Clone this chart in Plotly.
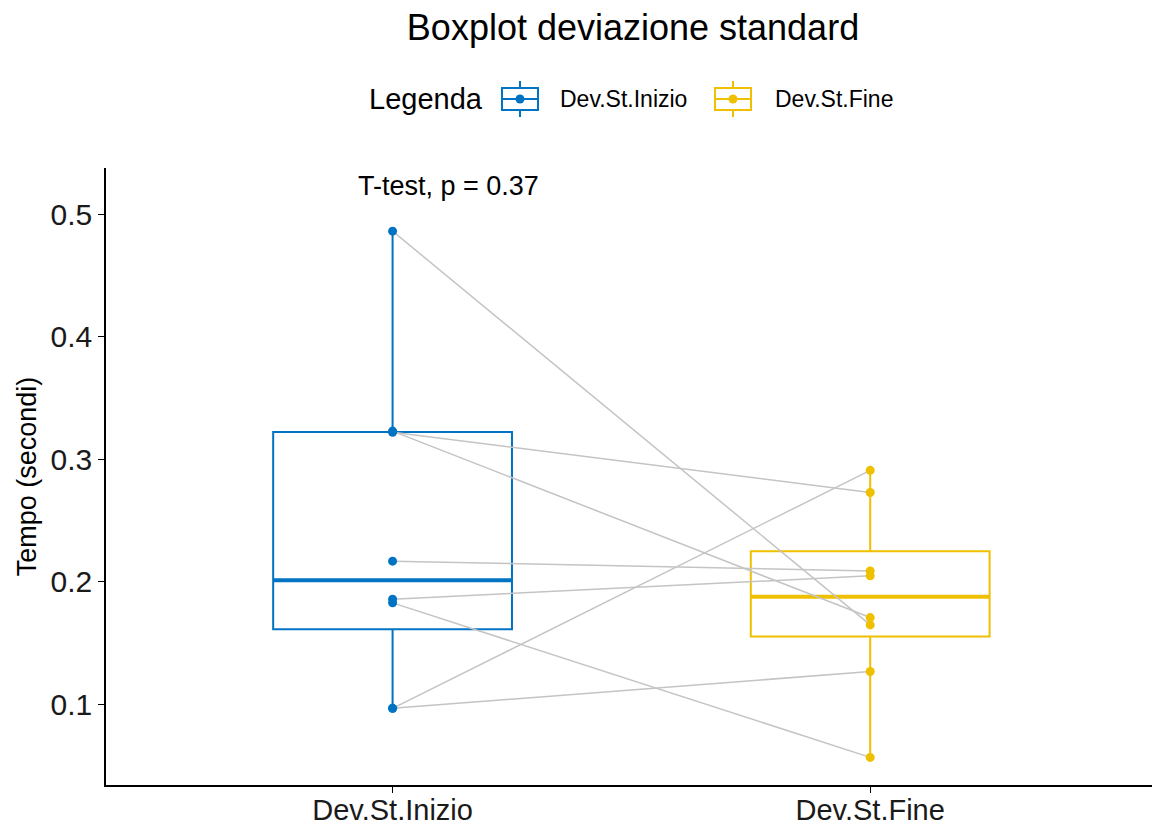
import numpy as np
import plotly.graph_objects as go

# Paired standard deviations (seconds), one entry per subject
groups = ["Dev.St.Inizio", "Dev.St.Fine"]
dev_inizio = [0.486, 0.322, 0.323, 0.217, 0.186, 0.183, 0.097, 0.097]
dev_fine = [0.165, 0.273, 0.171, 0.209, 0.205, 0.057, 0.291, 0.127]
colors = ["#0073C2", "#EFC000"]
p_label = "T-test, p = 0.37"
y_ticks = [0.1, 0.2, 0.3, 0.4, 0.5]

font_family = "Liberation Sans, Arial, sans-serif"
series = [dev_inizio, dev_fine]
box_half = 0.25

W, H = 1152, 827
M_L, M_R, M_T, M_B = 106, 0, 168, 42
PW, PH = W - M_L - M_R, H - M_T - M_B


def px(x):
    """pixel column -> paper x"""
    return (x - M_L) / PW


def py(y):
    """pixel row -> paper y"""
    return (H - M_B - y) / PH


fig = go.Figure()

# Boxes (type-7 quartiles, whiskers to the extremes)
for i, (name, vals, col) in enumerate(zip(groups, series, colors)):
    v = np.array(vals)
    q1, med, q3 = np.percentile(v, [25, 50, 75])
    fig.add_trace(go.Box(
        x=[i], q1=[q1], median=[med], q3=[q3],
        lowerfence=[v.min()], upperfence=[v.max()],
        name=name, width=2 * box_half, whiskerwidth=0,
        line=dict(color=col, width=2), fillcolor="rgba(255,255,255,0)",
        boxpoints=False, showlegend=False,
    ))
    # thicker median bar
    fig.add_trace(go.Scatter(
        x=[i - box_half, i + box_half], y=[med, med], mode="lines",
        line=dict(color=col, width=4), showlegend=False, hoverinfo="skip",
    ))

# Paired lines between the two measurements
for a, b in zip(dev_inizio, dev_fine):
    fig.add_trace(go.Scatter(
        x=[0, 1], y=[a, b], mode="lines",
        line=dict(color="#C4C4C4", width=1.5), showlegend=False, hoverinfo="skip",
    ))

# Individual points
for i, (vals, col) in enumerate(zip(series, colors)):
    fig.add_trace(go.Scatter(
        x=[i] * len(vals), y=vals, mode="markers",
        marker=dict(color=col, size=9), showlegend=False,
    ))

fig.add_annotation(
    x=-0.077, y=0.5228, xref="x", yref="y", text=p_label, showarrow=False,
    xanchor="left", yanchor="middle",
    font=dict(family=font_family, size=27, color="black"),
)

# Legend: title, box-style keys and labels
shapes = []
annotations = [dict(
    x=px(367), y=py(99), xref="paper", yref="paper", text="Legenda",
    showarrow=False, xanchor="left", yanchor="middle",
    font=dict(family=font_family, size=29, color="black"),
)]
key_centers = [520, 733]
label_left = [558, 773]
for cx, lx, name, col in zip(key_centers, label_left, groups, colors):
    ln = dict(color=col, width=2)
    shapes += [
        dict(type="rect", xref="paper", yref="paper",
             x0=px(cx - 18), x1=px(cx + 18), y0=py(110), y1=py(88), line=ln),
        dict(type="line", xref="paper", yref="paper",
             x0=px(cx - 18), x1=px(cx + 18), y0=py(99), y1=py(99), line=ln),
        dict(type="line", xref="paper", yref="paper",
             x0=px(cx), x1=px(cx), y0=py(88), y1=py(81), line=ln),
        dict(type="line", xref="paper", yref="paper",
             x0=px(cx), x1=px(cx), y0=py(110), y1=py(117), line=ln),
        dict(type="circle", xref="paper", yref="paper",
             x0=px(cx - 4.5), x1=px(cx + 4.5), y0=py(103.5), y1=py(94.5),
             fillcolor=col, line=dict(color=col, width=0)),
    ]
    annotations.append(dict(
        x=px(lx), y=py(99), xref="paper", yref="paper", text=name,
        showarrow=False, xanchor="left", yanchor="middle",
        font=dict(family=font_family, size=23, color="black"),
    ))

fig.update_layout(
    width=W, height=H,
    margin=dict(l=M_L, r=M_R, t=M_T, b=M_B),
    paper_bgcolor="white", plot_bgcolor="white",
    font=dict(family=font_family, color="black"),
    title=dict(text="Boxplot deviazione standard", x=633 / W, xanchor="center",
               y=1 - 27 / H, yanchor="middle",
               font=dict(size=36, color="black")),
    showlegend=False,
    shapes=shapes,
    annotations=list(fig.layout.annotations) + annotations,
)
fig.update_xaxes(
    range=[-0.6, 1.59], tickvals=[0, 1], ticktext=groups, automargin=False,
    showline=True, linecolor="black", linewidth=1.5,
    ticks="outside", ticklen=6, tickcolor="black", tickwidth=1.2,
    ticklabelstandoff=-8,
    tickfont=dict(size=29, color="#1a1a1a"), showgrid=False, zeroline=False,
)
fig.update_yaxes(
    range=[0.0345, 0.5375], tickvals=y_ticks, ticktext=[f"{t:.1f}" for t in y_ticks],
    automargin=False,
    showline=True, linecolor="black", linewidth=1.5,
    ticks="outside", ticklen=6, tickcolor="black", tickwidth=1.2,
    tickfont=dict(size=30, color="#1a1a1a"), showgrid=False, zeroline=False,
    title=dict(text="Tempo (secondi)", font=dict(size=27), standoff=6),
)

fig.write_html("out.html")
